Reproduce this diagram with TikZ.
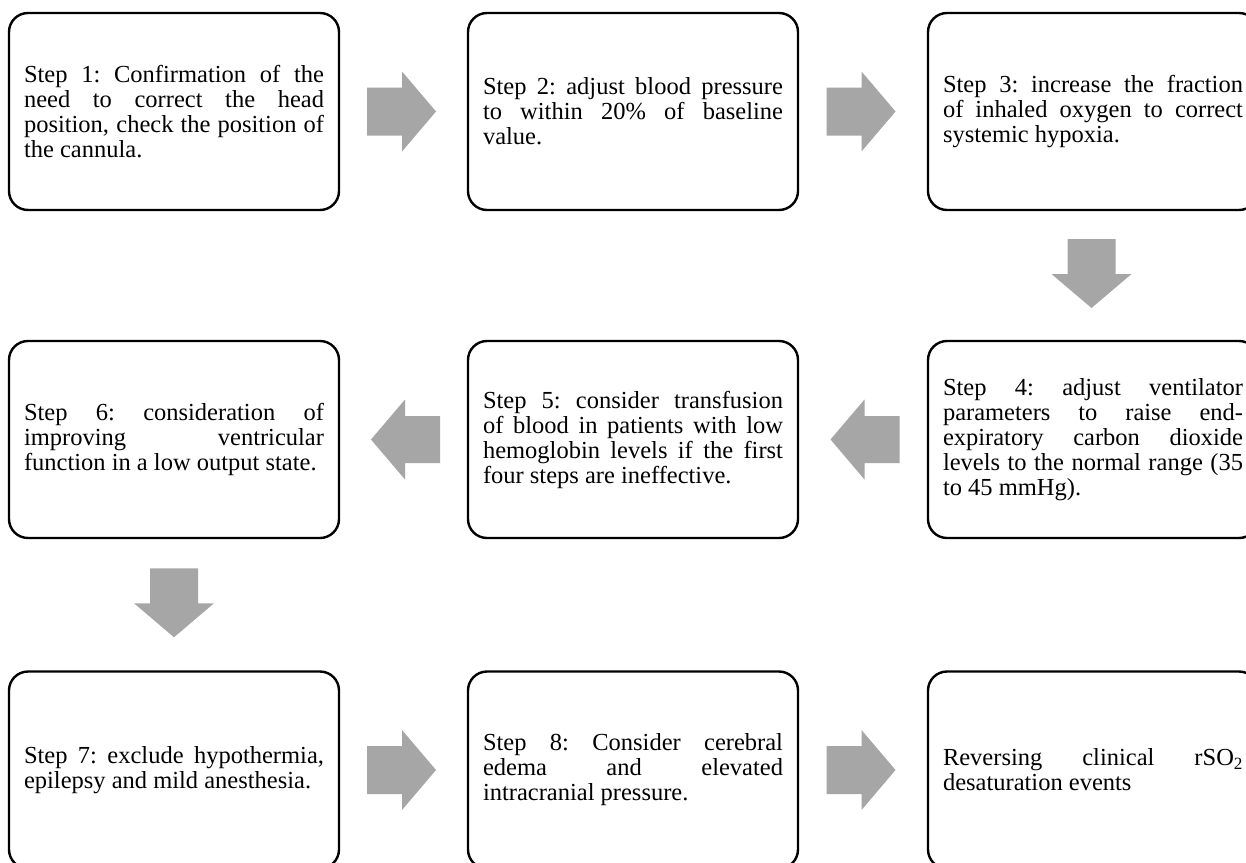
\documentclass[tikz,border=0pt]{standalone}
\usepackage{fontspec}
\setmainfont{Liberation Serif}
\usetikzlibrary{calc}
\definecolor{arrowgray}{HTML}{A6A6A6}
\newcommand{\jl}[1]{\makebox[300pt][s]{\spaceskip=0.25em plus 1fil\xspaceskip=0.25em plus 1fil\relax #1}\\}
\newcommand{\lastl}[1]{\makebox{\spaceskip=0.25em\xspaceskip=0.25em\relax #1}}
\tikzset{
  stepbox/.style={draw=black, line width=2.4pt, rounded corners=19pt,
    minimum width=330pt, minimum height=197pt, text width=300pt,
    inner xsep=15pt, align=left,
    font=\fontsize{24.5}{25}\selectfont},
  rarrow/.pic={\fill[arrowgray] (-34.5,-24) -- (0.5,-24) -- (0.5,-40) -- (34.5,0) -- (0.5,40) -- (0.5,24) -- (-34.5,24) -- cycle;},
  larrow/.pic={\fill[arrowgray] (34.5,-23.5) -- (-0.5,-23.5) -- (-0.5,-40) -- (-34.5,0) -- (-0.5,40) -- (-0.5,23.5) -- (34.5,23.5) -- cycle;},
  darrow/.pic={\fill[arrowgray] (-24,-34.5) -- (-24,0.5) -- (-40,0.5) -- (0,34.5) -- (40,0.5) -- (24,0.5) -- (24,-34.5) -- cycle;}
}
\begin{document}
\begin{tikzpicture}[x=1pt,y=-1pt]
\useasboundingbox (0,0) rectangle (1246,862);
\clip (0,0) rectangle (1246,862);
\fill[white] (0,0) rectangle (1246,862);
% row 1
\node[stepbox] (b1) at (174,111.5) {\jl{Step 1: Confirmation of the}\jl{need to correct the head}\jl{position, check the position of}\lastl{the cannula.}};
\node[stepbox] (b2) at (633,111.5) {\jl{Step 2: adjust blood pressure}\jl{to within 20\% of baseline}\lastl{value.}};
\node[stepbox] (b3) at (1093,111.5) {\jl{Step 3: increase the fraction}\jl{of inhaled oxygen to correct}\lastl{systemic hypoxia.}};
% row 2
\node[stepbox] (b4) at (1093,439.5) {\jl{Step 4: adjust ventilator}\jl{parameters to raise end-}\jl{expiratory carbon dioxide}\jl{levels to the normal range (35}\lastl{to 45 mmHg).}};
\node[stepbox] (b5) at (633,439.5) {\jl{Step 5: consider transfusion}\jl{of blood in patients with low}\jl{hemoglobin levels if the first}\lastl{four steps are ineffective.}};
\node[stepbox] (b6) at (174,439.5) {\jl{Step 6: consideration of}\jl{improving ventricular}\lastl{function in a low output state.}};
% row 3
\node[stepbox] (b7) at (174,770) {\jl{Step 7: exclude hypothermia,}\lastl{epilepsy and mild anesthesia.}};
\node[stepbox] (b8) at (633,770) {\jl{Step 8: Consider cerebral}\jl{edema and elevated}\lastl{intracranial pressure.}};
\node[stepbox] (b9) at (1093,770) {\jl{Reversing clinical rSO\textsubscript{2}}\lastl{desaturation events}};
% arrows
\pic at ($(b1.east)!0.5!(b2.west)+(-2,0)$) {rarrow};
\pic at ($(b2.east)!0.5!(b3.west)+(-2,0)$) {rarrow};
\pic at ($(b3.south)!0.5!(b4.north)+(-1.5,-2)$) {darrow};
\pic at ($(b4.west)!0.5!(b5.east)+(2,0)$) {larrow};
\pic at ($(b5.west)!0.5!(b6.east)+(2,0)$) {larrow};
\pic at ($(b6.south)!0.5!(b7.north)+(0,-2)$) {darrow};
\pic at ($(b7.east)!0.5!(b8.west)+(-2,0)$) {rarrow};
\pic at ($(b8.east)!0.5!(b9.west)+(-2,0)$) {rarrow};
\end{tikzpicture}
\end{document}
